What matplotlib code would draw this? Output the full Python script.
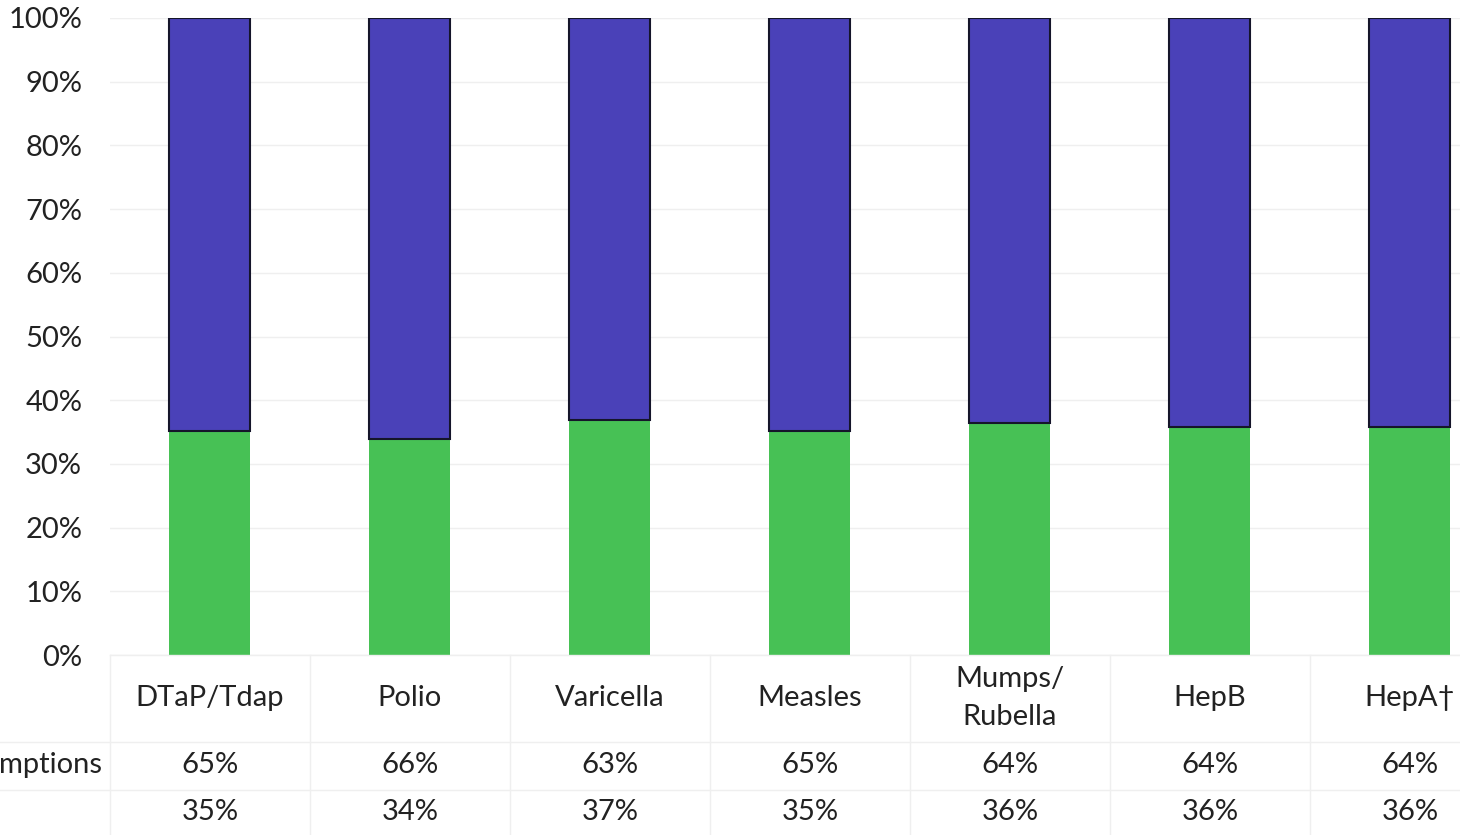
import matplotlib
matplotlib.use("Agg")
import matplotlib.pyplot as plt
from matplotlib.lines import Line2D
from matplotlib.transforms import blended_transform_factory

plt.rcParams["font.family"] = ["Lato", "DejaVu Sans"]

# data
vaccines = ["DTaP/Tdap", "Polio", "Varicella", "Measles", "Mumps/\nRubella", "HepB", "HepA\u2020"]
top_share = [64.8, 66.1, 63.1, 64.8, 63.6, 64.2, 64.2]
bottom_share = [35.2, 33.9, 36.9, 35.2, 36.4, 35.8, 35.8]
# only the tail of the first row label is visible in the cropped scan
row_labels = ["mptions", ""]

blue = "#4a41b8"
green = "#47c155"
grid_col = "#efefef"
text_col = "#222222"
fs = 21

W, H = 1460, 835
fig = plt.figure(figsize=(W / 100, H / 100), dpi=100)
fig.patch.set_facecolor("white")

# plot area runs past the right edge (scan is cropped)
ax_left, ax_top, ax_bottom, ax_right = 110, 18, 655, 1510
ax = fig.add_axes([ax_left / W, (H - ax_bottom) / H,
                   (ax_right - ax_left) / W, (ax_bottom - ax_top) / H])

x = list(range(len(vaccines)))
ax.bar(x, bottom_share, width=0.405, color=green, linewidth=0, zorder=2)
ax.bar(x, top_share, bottom=bottom_share, width=0.405, color=blue,
       edgecolor="#15152a", linewidth=1.5, zorder=2)

ax.set_xlim(-0.5, len(vaccines) - 0.5)
ax.set_ylim(0, 100)
ax.set_yticks(range(0, 101, 10))
ax.set_yticklabels([f"{v}%" for v in range(0, 101, 10)], fontsize=fs, color=text_col)
ax.tick_params(axis="y", length=0, pad=20)
ax.tick_params(axis="x", length=0, labelbottom=False)
ax.yaxis.grid(True, color=grid_col, linewidth=1, zorder=0)
for s in ax.spines.values():
    s.set_visible(False)

# data table below the plot
px = 1.0 / (ax_bottom - ax_top)  # one pixel in axes fraction
xt = ax.get_xaxis_transform()
row_lines = [742, 790]
header_y = 698
row_y = [765, 812]

def ay(py):
    return (ax_bottom - py) * px

for i, name in enumerate(vaccines):
    ax.text(i, ay(header_y), name, transform=xt, ha="center", va="center",
            fontsize=fs, color=text_col, linespacing=1.55)
    ax.text(i, ay(row_y[0]), f"{top_share[i]:.0f}%", transform=xt,
            ha="center", va="center", fontsize=fs, color=text_col)
    ax.text(i, ay(row_y[1]), f"{bottom_share[i]:.0f}%", transform=xt,
            ha="center", va="center", fontsize=fs, color=text_col)

# cell borders
ft = blended_transform_factory(fig.transFigure, xt)
for ly in row_lines:
    fig.add_artist(Line2D([0, 1], [ay(ly), ay(ly)], transform=ft,
                          color=grid_col, linewidth=1))
for b in range(len(vaccines) + 1):
    ax.add_line(Line2D([b - 0.5, b - 0.5], [0, ay(H)], transform=xt,
                       color=grid_col, linewidth=1, clip_on=False))
ax.add_line(Line2D([-0.5, len(vaccines) - 0.5], [0, 0], transform=xt,
                   color=grid_col, linewidth=1, clip_on=False))

# row labels
for lab, ry in zip(row_labels, row_y):
    fig.text((ax_left - 8) / W, 1 - ry / H, lab, ha="right", va="center",
             fontsize=fs, color=text_col)

fig.savefig("out.png", dpi=100)
